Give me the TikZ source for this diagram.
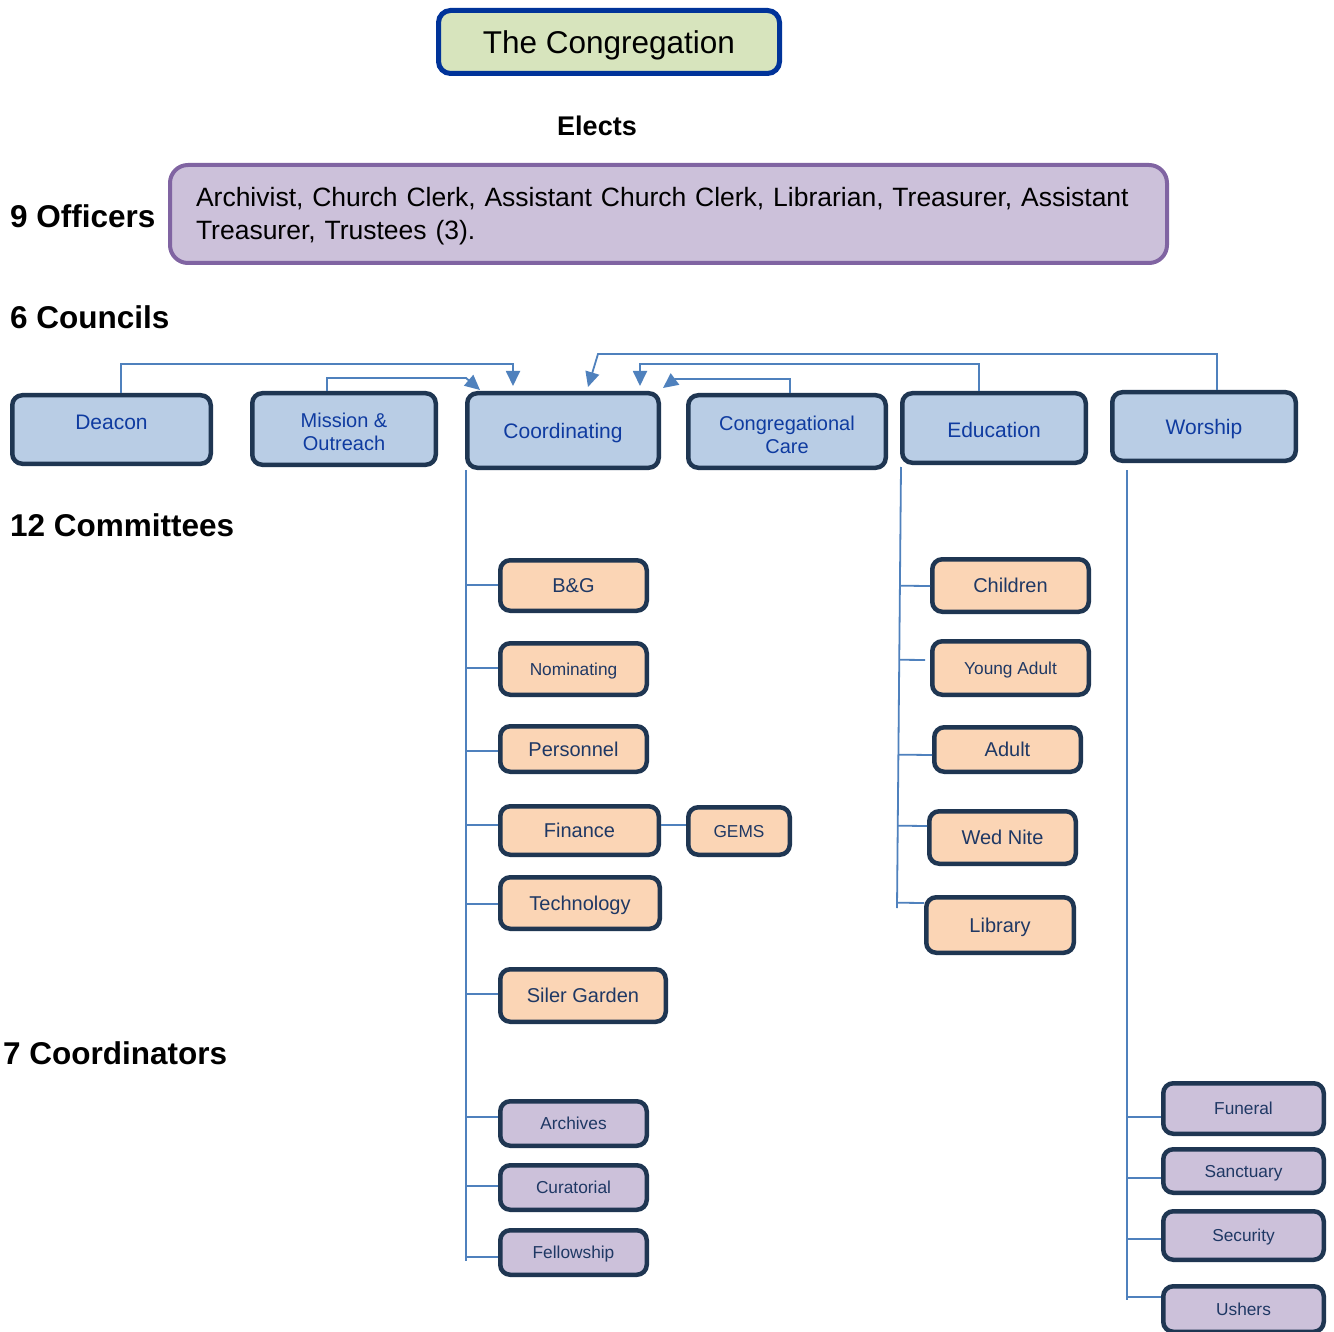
\documentclass[tikz,border=0pt]{standalone}
\usepackage{fontspec}
\setmainfont{Liberation Sans}
\usetikzlibrary{arrows.meta,calc}
\definecolor{navyb}{HTML}{1F3652}
\definecolor{councilfill}{HTML}{B9CDE5}
\definecolor{counciltext}{HTML}{0F3BA0}
\definecolor{commtext}{HTML}{1F3864}
\definecolor{peach}{HTML}{FBD5B5}
\definecolor{lavender}{HTML}{CCC1DA}
\definecolor{purpleb}{HTML}{8064A2}
\definecolor{greenfill}{HTML}{D7E4BD}
\definecolor{bluedeep}{HTML}{003399}
\definecolor{connblue}{HTML}{4F81BD}
\begin{document}
\begin{tikzpicture}[x=1pt,y=-1pt,
  box/.style={draw=navyb, line width=4.5pt, rounded corners=10pt, inner sep=0pt, align=center},
  council/.style={box, fill=councilfill, text=counciltext, font=\fontsize{21}{23}\selectfont},
  cone/.style={council, text height=15pt, text depth=0pt},
  comm/.style={box, fill=peach, text=commtext, font=\fontsize{20}{22}\selectfont, text height=14.3pt, text depth=0pt},
  small/.style={font=\fontsize{17.3}{19}\selectfont, text height=12.4pt, text depth=0pt},
  coordbox/.style={box, fill=lavender, text=commtext, small},
  conn/.style={draw=connblue, line width=1.8pt},
  arr/.style={conn, -{Triangle[length=15pt,width=14pt]}},
  heading/.style={font=\bfseries\fontsize{31.5}{36}\selectfont, inner sep=0pt, anchor=west}]
\fill[white] (0,0) rectangle (1334,1332);
\useasboundingbox (0,0) rectangle (1334,1332);

% top
\node[draw=bluedeep, line width=5pt, fill=greenfill, rounded corners=12pt, inner sep=0pt,
      minimum width=341pt, minimum height=63pt, font=\fontsize{31.5}{36}\selectfont,
      text height=22.6pt, text depth=0pt] (cong) at (609,42) {The Congregation};
\node[font=\bfseries\fontsize{27}{30}\selectfont, inner sep=0pt] (elects) at (597,126) {Elects};

\node[heading] (h9) at (10,216) {9 Officers};
\node[heading] (h6) at (10,317) {6 Councils};
\node[heading] (h12) at (10,525) {12 Committees};
\node[heading] (h7) at (3,1053) {7 Coordinators};

\node[draw=purpleb, line width=4pt, fill=lavender, rounded corners=18pt, text width=945pt,
      inner xsep=26pt, inner ysep=0pt, minimum height=98pt, align=left, text depth=34.6pt,
      font=\fontsize{26.5}{33}\selectfont] (off) at (668.5,214)
  {Archivist, Church Clerk, Assistant Church Clerk, Librarian, Treasurer, Assistant\\Treasurer, Trustees (3).};

% councils
\node[council, minimum width=198.5pt, minimum height=68.5pt, text depth=14pt] (deacon) at (111.5,429.5) {Deacon};
\node[council, minimum width=183.5pt, minimum height=71.5pt, font=\fontsize{20}{23}\selectfont, text height=43.6pt] (mission) at (344,429) {Mission \&\\Outreach};
\node[cone, minimum width=191.5pt, minimum height=74.5pt] (coordc) at (563,430.5) {Coordinating};
\node[council, minimum width=197.5pt, minimum height=72.5pt, font=\fontsize{20}{23}\selectfont, text height=43.6pt] (care) at (787,431.5) {Congregational\\Care};
\node[cone, minimum width=183.5pt, minimum height=69.5pt, text height=19pt] (edu) at (994,428) {Education};
\node[cone, minimum width=183.5pt, minimum height=68.5pt] (worship) at (1204,426.5) {Worship};

% council connectors
\draw[arr] ([xshift=9.5pt]deacon.north) -- ++(0,-29) -| ([shift={(-50,-5)}]coordc.north);
\draw[arr] ([xshift=-17pt]mission.north) -- ++(0,-13) -- ++(139,0) -- ([shift={(15,-1)}]coordc.north west);
\draw[arr] ([xshift=13pt]worship.north) -- ++(0,-36) -- ++(-619,0) -- ([shift={(25,-4)}]coordc.north);
\draw[arr] ([xshift=-15pt]edu.north) -- ++(0,-27) -| ([shift={(77,-5)}]coordc.north);
\draw[arr] ([xshift=3pt]care.north) -- ++(0,-14) -- ++(-115,0) -- ([shift={(2,-3)}]coordc.north east);

% committees under Coordinating
\node[comm, minimum width=146.5pt, minimum height=50.5pt] (bg) at (573.5,585.5) {B\&G};
\node[comm, small, minimum width=146.5pt, minimum height=51.5pt] (nom) at (573.5,669) {Nominating};
\node[comm, minimum width=146.5pt, minimum height=45.5pt] (pers) at (573.5,749) {Personnel};
\node[comm, minimum width=158.5pt, minimum height=48.5pt] (fin) at (579.5,830.5) {Finance};
\node[comm, small, minimum width=101.5pt, minimum height=47.5pt] (gems) at (739,831) {GEMS};
\node[comm, minimum width=159.5pt, minimum height=51.5pt] (tech) at (580,903) {Technology};
\node[comm, minimum width=165.5pt, minimum height=52.5pt] (siler) at (583,995.5) {Siler Garden};
\node[coordbox, minimum width=146.5pt, minimum height=44.5pt] (arch) at (573.5,1123.5) {Archives};
\node[coordbox, minimum width=146.5pt, minimum height=44.5pt] (cur) at (573.5,1187.5) {Curatorial};
\node[coordbox, minimum width=146.5pt, minimum height=44.5pt] (fel) at (573.5,1252.5) {Fellowship};

% committees under Education
\node[comm, minimum width=156.5pt, minimum height=52.5pt] (child) at (1010.5,585.5) {Children};
\node[comm, small, minimum width=156.5pt, minimum height=53.5pt] (ya) at (1010.5,668) {Young Adult};
\node[comm, minimum width=146.5pt, minimum height=44.5pt] (adult) at (1007.5,749.5) {Adult};
\node[comm, minimum width=146.5pt, minimum height=52.5pt] (wed) at (1002.5,837.5) {Wed Nite};
\node[comm, minimum width=147.5pt, minimum height=55.5pt] (lib) at (1000,925) {Library};

% coordinators under Worship
\node[coordbox, minimum width=160.5pt, minimum height=50.5pt] (fun) at (1243.5,1108.5) {Funeral};
\node[coordbox, minimum width=160.5pt, minimum height=43.5pt] (sanc) at (1243.5,1171) {Sanctuary};
\node[coordbox, minimum width=160.5pt, minimum height=48.5pt] (sec) at (1243.5,1235.5) {Security};
\node[coordbox, minimum width=160.5pt, minimum height=45.5pt] (ush) at (1243.5,1309) {Ushers};

% trunks
\coordinate (ctop) at (466,470);
\coordinate (cbot) at (466,1261);
\coordinate (etop) at (901,467);
\coordinate (ebot) at (897,908);
\coordinate (wtop) at (1127,470);
\coordinate (wbot) at (1127,1300);
\draw[conn] (ctop) -- (cbot);
\draw[conn] (etop) -- (ebot);
\draw[conn] (wtop) -- (wbot);

\foreach \n/\s in {bg/0.5, nom/1, pers/-2, fin/5.5, tech/-1, siler/1.5, arch/6.5, cur/1.5, fel/-4.5}{
  \path ([yshift=\s pt]\n.west) coordinate (p);
  \draw[conn] (p) -- (ctop |- p);
}
\foreach \n/\s in {child/-0.5, adult/-5.5, wed/11.5, lib/22}{
  \path ([yshift=\s pt]\n.west) coordinate (p);
  \draw[conn] (p) -- ($(etop)!(p)!(ebot)$);
}
\path ([xshift=-5pt,yshift=8pt]ya.west) coordinate (p);
\draw[conn] (p) -- ($(etop)!(p)!(ebot)$);
\foreach \n/\s in {fun/-8.5, sanc/-7, sec/-3.5, ush/12}{
  \path ([yshift=\s pt]\n.west) coordinate (p);
  \draw[conn] (p) -- (wtop |- p);
}
\path ([yshift=5.5pt]fin.east) coordinate (p);
\draw[conn] (p) -- (gems.west |- p);
\end{tikzpicture}
\end{document}
